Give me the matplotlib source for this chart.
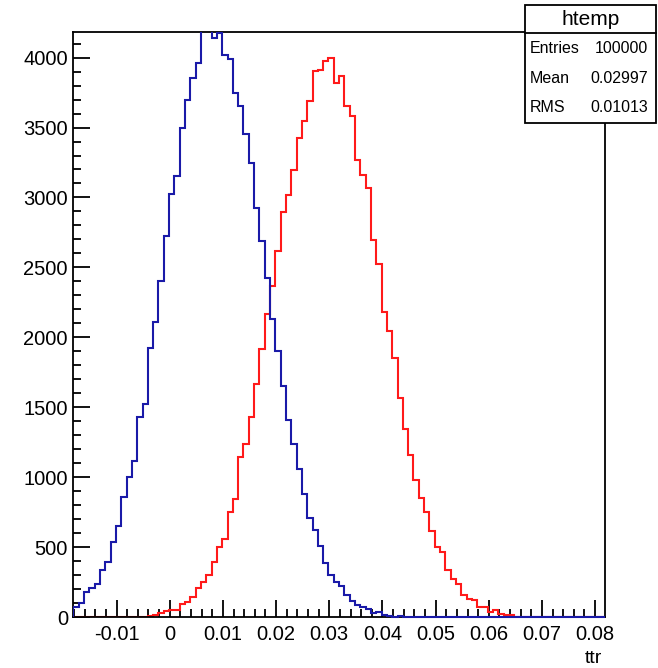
import numpy as np
import matplotlib
matplotlib.use("Agg")
import matplotlib.pyplot as plt
from matplotlib.patches import Rectangle
from matplotlib.lines import Line2D
from matplotlib.ticker import MultipleLocator, FuncFormatter
from matplotlib.transforms import Bbox, TransformedBbox

plt.rcParams["font.family"] = ["Liberation Sans", "DejaVu Sans"]
plt.rcParams["axes.unicode_minus"] = False

# histogram binning (htemp: 100 bins)
x_min, x_max, n_bins = -0.0181, 0.0818, 100
edges = np.linspace(x_min, x_max, n_bins + 1)

# bin contents
blue_counts = [
    72, 100, 176, 205, 238, 334, 394, 539, 654, 857,
    1000, 1117, 1428, 1521, 1927, 2108, 2402, 2724, 3023, 3152,
    3496, 3698, 3854, 3961, 4230, 4260, 4140, 4176, 4021, 3990,
    3747, 3654, 3452, 3248, 2927, 2686, 2426, 2130, 1903, 1652,
    1406, 1239, 1055, 883, 709, 620, 511, 387, 303, 251,
    219, 160, 117, 83, 72, 60, 29, 36, 12, 10,
    3, 7, 1,
] + [0] * 37

red_counts = [0] * 14 + [
    8, 12, 27, 42, 48, 50, 95, 105, 143, 205,
    251, 298, 394, 499, 560, 750, 845, 1146, 1239, 1428,
    1664, 1915, 2165, 2364, 2617, 2898, 3020, 3199, 3426, 3546,
    3689, 3901, 3913, 3973, 3997, 3818, 3868, 3653, 3582, 3271,
    3163, 3068, 2698, 2526, 2178, 2046, 1855, 1569, 1346, 1155,
    983, 852, 749, 618, 499, 465, 339, 274, 236, 160,
    131, 119, 71, 71, 36, 47, 24, 12, 12,
] + [0] * 17

y_max = 4185
stats_title = "htemp"
stats_rows = [("Entries", "100000"), ("Mean", "0.02997"), ("RMS", "0.01013")]

fig = plt.figure(figsize=(6.58, 6.68), dpi=100)
ax = fig.add_axes([0.1117, 0.0763, 0.919 - 0.1117, 0.9525 - 0.0763])

ax.stairs(red_counts, edges, color="#ff1a1a", linewidth=1.5, zorder=2)
blue = ax.stairs(blue_counts, edges, color="#1a1aa8", linewidth=1.5, zorder=3)
# let the blue zero line sit on top of the x axis (drawn "same" in ROOT)
blue.set_clip_box(TransformedBbox(Bbox([[x_min, -100], [x_max, y_max]]), ax.transData))

ax.set_xlim(x_min, x_max)
ax.set_ylim(0, y_max)

ax.xaxis.set_major_locator(MultipleLocator(0.01))
ax.xaxis.set_minor_locator(MultipleLocator(0.002))
ax.yaxis.set_major_locator(MultipleLocator(500))
ax.yaxis.set_minor_locator(MultipleLocator(100))
ax.xaxis.set_major_formatter(FuncFormatter(lambda v, p: f"{round(v, 4):g}"))

ax.tick_params(which="both", direction="in", top=False, right=False, width=1.3, labelsize=14.5)
ax.tick_params(which="major", length=12)
ax.tick_params(which="minor", length=5.8)
ax.tick_params(axis="y", pad=4)
ax.tick_params(axis="x", pad=5.5)
for s in ax.spines.values():
    s.set_linewidth(1.3)

fig.text(0.915, 0.001, "ttr", ha="right", va="bottom", fontsize=14)

# stats box
bx0, bx1, by0, by1 = 0.7974, 0.997, 0.8163, 0.9930
fig.add_artist(Rectangle((bx0, by0), bx1 - bx0, by1 - by0, transform=fig.transFigure,
                         facecolor="white", edgecolor="black", linewidth=1.3, zorder=5))
fig.add_artist(Line2D([bx0, bx1], [0.9501, 0.9501], transform=fig.transFigure,
                      color="black", linewidth=1.3, zorder=6))
fig.text((bx0 + bx1) / 2, 0.9705, stats_title, ha="center", va="center", fontsize=15, zorder=7)
for (name, val), yy in zip(stats_rows, [0.9277, 0.8827, 0.8393]):
    fig.text(0.8044, yy, name, ha="left", va="center", fontsize=11.5, zorder=7)
    fig.text(0.9853, yy, val, ha="right", va="center", fontsize=11.5, zorder=7)

fig.savefig("out.png", dpi=100)
